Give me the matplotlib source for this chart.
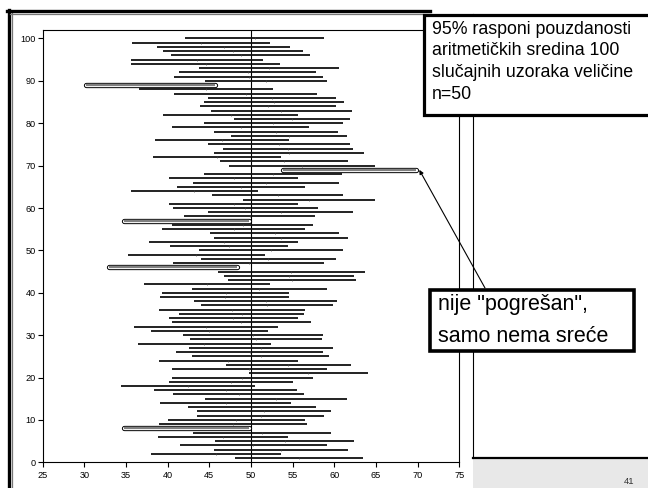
import matplotlib
matplotlib.use("Agg")
import matplotlib.pyplot as plt
from matplotlib.patches import Rectangle
from matplotlib.lines import Line2D

plt.rcParams["font.family"] = ["Liberation Sans", "DejaVu Sans"]

# 100 samples, 95% CI of the mean (lower / upper), sample 1 at the bottom
samples = list(range(1, 101))
lower = [48.1, 38.0, 45.6, 41.5, 45.7, 38.8, 43.0, 34.7, 38.9, 40.0,
         43.5, 43.5, 42.4, 39.1, 44.5, 40.6, 38.4, 34.4, 40.1, 40.5,
         49.7, 40.5, 47.0, 38.9, 42.9, 41.0, 42.6, 36.4, 42.7, 41.8,
         38.0, 36.0, 40.5, 40.1, 41.4, 39.0, 44.0, 43.2, 39.1, 39.3,
         42.9, 37.1, 47.2, 46.8, 46.0, 32.9, 40.6, 44.0, 35.2, 43.8,
         40.3, 37.7, 45.5, 45.1, 39.3, 40.5, 34.7, 42.0, 44.8, 40.6,
         40.2, 49.0, 45.3, 35.6, 41.1, 43.0, 40.2, 44.4, 53.8, 47.3,
         46.3, 38.2, 45.5, 46.6, 44.8, 38.5, 47.6, 45.6, 40.5, 44.3,
         47.9, 39.4, 45.2, 43.9, 44.4, 44.8, 40.8, 36.6, 30.2, 44.5,
         40.8, 41.4, 43.7, 35.6, 35.6, 40.4, 39.4, 38.7, 35.7, 42.1]
upper = [63.5, 53.6, 61.6, 59.1, 62.4, 54.4, 59.6, 49.8, 56.7, 56.5,
         58.8, 59.6, 57.8, 54.8, 61.5, 56.4, 55.5, 50.5, 55.0, 57.4,
         64.1, 59.1, 62.0, 55.6, 59.4, 58.7, 59.8, 52.4, 58.5, 58.7,
         52.0, 53.3, 57.2, 55.6, 56.4, 56.5, 59.8, 60.3, 54.6, 54.6,
         59.1, 52.3, 62.6, 62.4, 63.7, 48.3, 58.8, 60.2, 51.7, 61.0,
         54.5, 55.7, 61.6, 60.6, 56.5, 57.5, 49.8, 57.7, 62.3, 58.0,
         55.6, 64.9, 61.1, 50.8, 56.5, 60.6, 55.7, 60.9, 69.8, 64.9,
         61.7, 53.6, 63.6, 62.3, 61.9, 54.6, 61.5, 60.4, 57.0, 61.0,
         61.9, 55.7, 62.1, 60.2, 61.2, 60.2, 57.9, 52.7, 45.7, 59.1,
         58.6, 57.8, 60.6, 53.5, 51.5, 57.1, 56.3, 54.7, 52.3, 58.8]
missed = [8, 46, 57, 69, 89]
true_mean = 50

x_ticks = [25, 30, 35, 40, 45, 50, 55, 60, 65, 70, 75]
y_ticks = [0, 10, 20, 30, 40, 50, 60, 70, 80, 90, 100]

title_lines = ["95% rasponi pouzdanosti",
               "aritmetičkih sredina 100",
               "slučajnih uzoraka veličine",
               "n=50"]
note_lines = ['nije "pogrešan",', "samo nema sreće"]
page_no = "41"

W, H = 648, 488


def fx(x):
    return x / W


def fy(y):
    return 1 - y / H


fig = plt.figure(figsize=(W / 100, H / 100), dpi=100)

ax = fig.add_axes([fx(42.7), fy(462.3), (459.3 - 42.7) / W, (462.3 - 30) / H])

for i, lo, hi in zip(samples, lower, upper):
    if i in missed:
        ax.plot([lo, hi], [i, i], color="black", lw=3.8,
                solid_capstyle="round", zorder=3)
        ax.plot([lo, hi], [i, i], color="white", lw=2.4,
                solid_capstyle="round", zorder=4)
        ax.plot([lo, hi], [i, i], color="#808080", lw=1.6,
                solid_capstyle="butt", zorder=5)
    else:
        ax.plot([lo, hi], [i, i], color="#111111", lw=1.3,
                solid_capstyle="butt", zorder=2)
        # faint tick at the sample mean
        ax.plot((lo + hi) / 2, i, marker="|", ms=1.6, mew=0.5,
                color="#444444", zorder=2)

ax.axvline(true_mean, color="black", lw=0.8, zorder=1)

ax.set_xlim(25, 75)
ax.set_ylim(0, 102)
ax.set_xticks(x_ticks)
ax.set_yticks(y_ticks)
ax.tick_params(axis="both", direction="out", length=3.5, width=0.8,
               labelsize=6.6, pad=1.5, colors="black")
ax.tick_params(axis="x", pad=2.5)
for s in ax.spines.values():
    s.set_linewidth(0.8)
    s.set_color("black")

# annotation arrow from the note box to the interval that misses
ax.annotate("", xy=(70.2, 69), xycoords="data",
            xytext=(fx(485), fy(288)), textcoords="figure fraction",
            arrowprops=dict(arrowstyle="-|>", color="black", lw=0.8,
                            mutation_scale=6, shrinkA=0, shrinkB=0),
            annotation_clip=False)

# chart frame
fig.add_artist(Line2D([fx(8.5), fx(8.5)], [fy(10), fy(488)], color="black", lw=2.4))
fig.add_artist(Line2D([fx(11.5), fx(11.5)], [fy(12), fy(488)], color="#777777", lw=0.9))
fig.add_artist(Line2D([fx(7), fx(430)], [fy(11), fy(11)], color="black", lw=2.4))
fig.add_artist(Line2D([fx(10), fx(430)], [fy(13.8), fy(13.8)], color="#777777", lw=0.9))
fig.add_artist(Line2D([fx(473.3), fx(473.3)], [fy(14), fy(458)], color="black", lw=0.8))

# footer strip with page number
fig.add_artist(Rectangle((fx(473.3), 0), 1 - fx(473.3), fy(458), facecolor="#e8e8e8",
                         edgecolor="none", transform=fig.transFigure))
fig.add_artist(Line2D([fx(473.3), 1], [fy(458), fy(458)], color="black", lw=1.6))
fig.text(fx(629), fy(481), page_no, fontsize=6.8, color="#333333",
         ha="center", va="center")

# title box
fig.add_artist(Rectangle((fx(424), fy(114.5)), fx(660) - fx(424), fy(14.5) - fy(114.5),
                         facecolor="white", edgecolor="black", lw=2.3,
                         transform=fig.transFigure, zorder=5))
for k, line in enumerate(title_lines):
    fig.text(fx(431.5), fy(33.5 + 21.7 * k), line, fontsize=12.8,
             ha="left", va="baseline", zorder=6)

# note box
fig.add_artist(Rectangle((fx(430), fy(350.5)), fx(634) - fx(430), fy(289.5) - fy(350.5),
                         facecolor="white", edgecolor="black", lw=2.6,
                         transform=fig.transFigure, zorder=5))
for k, line in enumerate(note_lines):
    fig.text(fx(438), fy(309.7 + 32 * k), line, fontsize=15.5,
             ha="left", va="baseline", zorder=6)

fig.savefig("out.png", dpi=100)
